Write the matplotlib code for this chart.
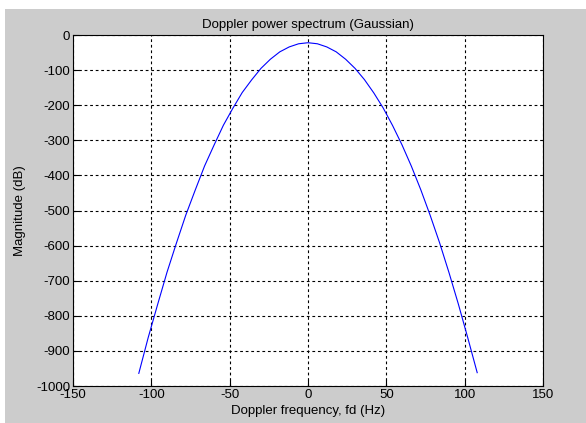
import matplotlib
matplotlib.use('Agg')
import matplotlib.pyplot as plt
from matplotlib.patches import Rectangle

plt.rcParams['font.family'] = ['Liberation Sans', 'DejaVu Sans']
plt.rcParams['axes.unicode_minus'] = False

# valori
freq = [-108, -102, -96, -90, -84, -78, -72, -66, -60, -54, -48, -42, -36, -30, -24,
        -18, -12, -6, 0, 6, 12, 18, 24, 30, 36, 42, 48, 54, 60, 66, 72, 78, 84, 90,
        96, 102, 108]
mag_db = [-964, -862, -768, -676, -593, -513, -442, -373, -314, -257, -209, -164,
          -128, -95, -69, -48, -34, -25, -22, -25, -34, -48, -69, -95, -127, -165,
          -208, -258, -313, -374, -441, -514, -592, -677, -767, -863, -962]
xticks = [-150, -100, -50, 0, 50, 100, 150]
yticks = [0, -100, -200, -300, -400, -500, -600, -700, -800, -900, -1000]

fig = plt.figure(figsize=(5.86, 4.23), dpi=100, facecolor='white')
# sfondo grigio stile matlab
fig.patches.append(Rectangle((5 / 586, 0), 1, 1 - 9 / 423, transform=fig.transFigure,
                             facecolor='#cccccc', edgecolor='none', zorder=-10))

ax = fig.add_axes([73 / 586, 1 - 386 / 423, 470 / 586, 351 / 423])
ax.plot(freq, mag_db, color='blue', linewidth=0.8)

ax.set_xlim(-150, 150)
ax.set_ylim(-1000, 0)
ax.set_xticks(xticks)
ax.set_yticks(yticks)
ax.tick_params(direction='in', labelsize=9.5, length=4, pad=2)
ax.grid(True, color='black', linestyle=(0, (2.5, 2.5)), linewidth=0.8)

ax.set_title('Doppler power spectrum (Gaussian)', fontsize=9.5, pad=5)
ax.set_xlabel('Doppler frequency, fd (Hz)', fontsize=9.5, labelpad=3)
ax.set_ylabel('Magnitude (dB)', fontsize=9.5, labelpad=7)

fig.savefig('out.png', dpi=100, facecolor=fig.get_facecolor())
